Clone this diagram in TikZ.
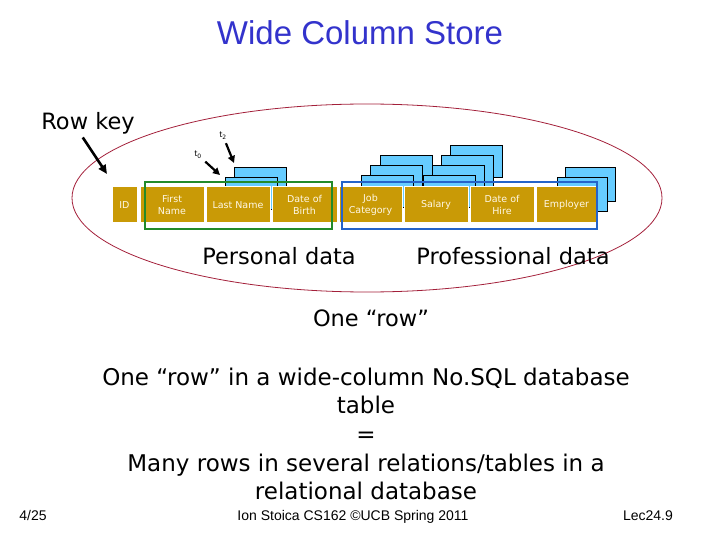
\documentclass[tikz,border=0pt]{standalone}
\usepackage{fontspec}
\setmainfont{DejaVu Sans}
\newfontfamily\arialfont{Liberation Sans}
\usetikzlibrary{arrows.meta}
\definecolor{cellgold}{HTML}{C99A06}
\definecolor{verblue}{HTML}{66CCFF}
\definecolor{persgreen}{HTML}{238A2A}
\definecolor{profblue}{HTML}{2563C9}
\definecolor{ringred}{HTML}{A3203A}
\definecolor{titleblue}{HTML}{3333CC}
\definecolor{celltext}{HTML}{FFF8E6}
\tikzset{
  cell/.style={fill=cellgold, draw=white, line width=1pt, text=celltext, minimum height=36,
    inner sep=0pt, align=center, font=\fontsize{9.5}{12}\selectfont},
  verbox/.style={fill=verblue, draw=black, line width=0.9pt},
  big/.style={font=\fontsize{22.5}{26}\selectfont},
  foot/.style={font=\arialfont\fontsize{14}{16}\selectfont, anchor=base},
  keyarrow/.style={line width=2.6pt, -{Triangle[length=9pt,width=8pt]}},
  tarrow/.style={line width=2.2pt, -{Triangle[length=7pt,width=7pt]}}
}
\begin{document}
\begin{tikzpicture}[x=1pt,y=-1pt]
  \useasboundingbox (0,0) rectangle (720,540);
  % Title
  \node (title) at (360,33) [font=\arialfont\fontsize{33}{38}\selectfont, text=titleblue] {Wide Column Store};

  % The one "row", with a ring round it
  \draw [ringred, line width=0.8pt] (367,198) ellipse [x radius=295, y radius=94];

  % Versions of a column: the older ones lie behind and above
  \foreach \k in {1,0}
    \draw [verbox, shift={(\k*9,-\k*10)}] (225,177) rectangle +(52,32);
  \foreach \k in {2,1,0}
    \draw [verbox, shift={(\k*9.5,-\k*10)}] (361,175) rectangle +(52,32);
  \foreach \k in {3,2,1,0}
    \draw [verbox, shift={(\k*9.3,-\k*10)}] (423,175) rectangle +(52,32);
  \foreach \k in {1,0}
    \draw [verbox, shift={(\k*8.5,-\k*10)}] (557,177) rectangle +(50,34);

  % The columns
  \node (id)       at (124.5,205) [cell, minimum width=25] {ID};
  \node (first)    at (172,205)   [cell, minimum width=64] {First\\Name};
  \node (last)     at (238,205)   [cell, minimum width=64] {Last Name};
  \node (birth)    at (304.5,205) [cell, minimum width=65] {Date of\\Birth};
  \node (job)      at (370.5,205) [cell, minimum width=63] {Job\\Category};
  \node (salary)   at (436,205)   [cell, minimum width=64] {Salary};
  \node (hire)     at (502,205)   [cell, minimum width=64] {Date of\\Hire};
  \node (employer) at (566.5,205) [cell, minimum width=61] {Employer};

  % Column families
  \draw [persgreen, line width=2.6pt] (145,182) rectangle (332,229);
  \draw [profblue, line width=2.6pt] (342,182) rectangle (597,229);

  % Row key and time stamps
  \node (rowkey) at (88,123) [big] {Row key};
  \node (tzero) at (198,155) [font=\fontsize{8}{9}\selectfont] {t\textsubscript{0}};
  \node (ttwo)  at (223,136) [font=\fontsize{8}{9}\selectfont] {t\textsubscript{2}};
  \coordinate (rkend) at (107,174);
  \coordinate (tzeroend) at (220,175);
  \coordinate (ttwoend) at (234,163);
  \draw [keyarrow] (rowkey.250) -- (rkend);
  \draw [tarrow] (tzero) -- (tzeroend);
  \draw [tarrow] (ttwo) -- (ttwoend);

  \node (personal)     at (279,256) [big] {Personal data};
  \node (professional) at (513,256) [big] {Professional data};
  \node (onerow)       at (371,318) [big] {One “row”};
  \node (summary) at (366,434) [align=center, font=\fontsize{23}{28.6}\selectfont]
    {One “row” in a wide-column No.SQL database\\table\\=\\Many rows in several relations/tables in a\\relational database};

  % Footer
  \node (date)   at (33,520)  [foot] {4/25};
  \node (credit) at (353,520) [foot] {Ion Stoica CS162 ©UCB Spring 2011};
  \node (slide)  at (648,520) [foot] {Lec24.9};
\end{tikzpicture}
\end{document}
